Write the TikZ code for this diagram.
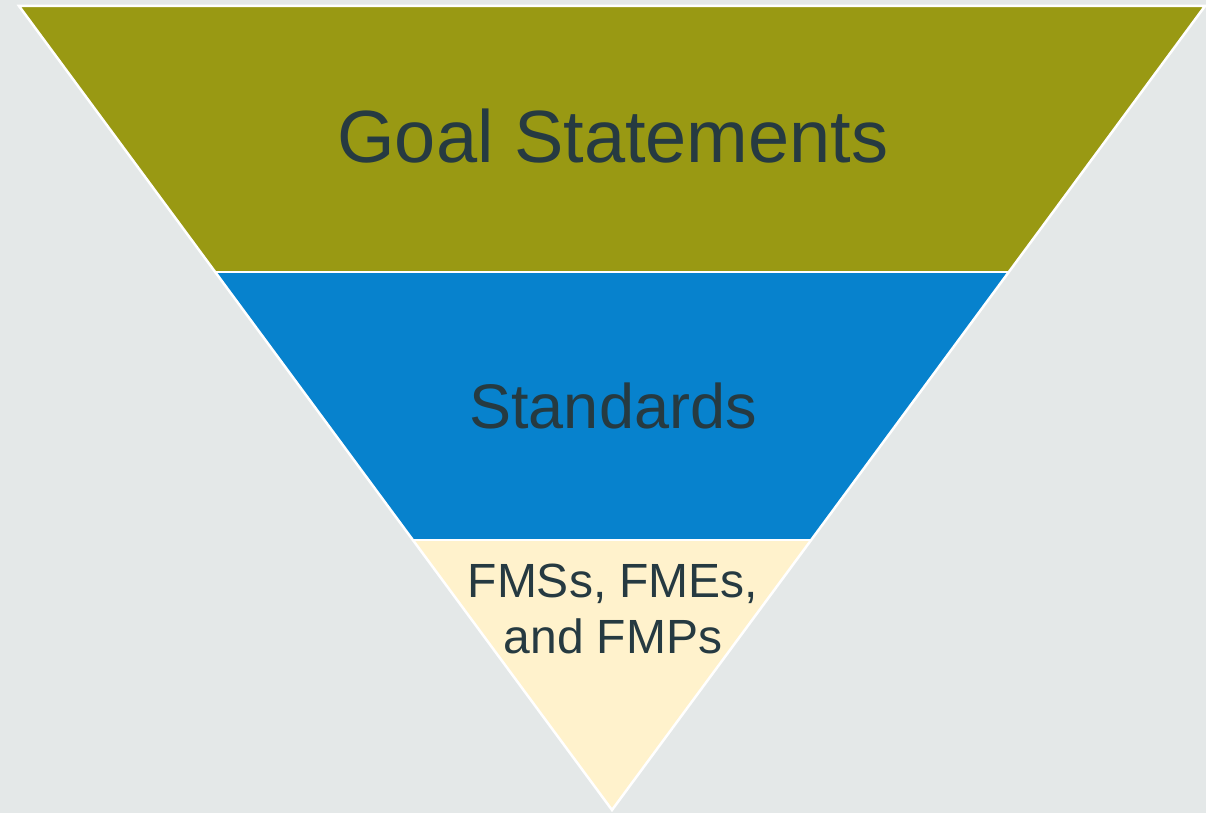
\documentclass[tikz,border=0pt]{standalone}
\usepackage{fontspec}
\setmainfont{Liberation Sans}
\definecolor{bgc}{HTML}{E4E8E8}
\definecolor{olive}{HTML}{999913}
\definecolor{blu}{HTML}{0782CD}
\definecolor{cream}{HTML}{FFF2CC}
\definecolor{txt}{HTML}{263A41}
\tikzset{band/.style={draw=white, line width=2.5pt, line join=miter},
  lbl/.style={text=txt, anchor=base, inner sep=0pt}}
\begin{document}
\begin{tikzpicture}[x=1pt,y=-1pt]
\fill[bgc] (0,0) rectangle (1206,813);
\useasboundingbox (0,0) rectangle (1206,813);
\coordinate (TL) at (19,6);
\coordinate (TR) at (1205,6);
\coordinate (A) at (612,810);
\coordinate (L1) at (215.2,272);
\coordinate (R1) at (1008.8,272);
\coordinate (L2) at (412.9,540);
\coordinate (R2) at (811.1,540);
\fill[olive] (TL) -- (TR) -- (R1) -- (L1) -- cycle;
\fill[blu] (L1) -- (R1) -- (R2) -- (L2) -- cycle;
\fill[cream] (L2) -- (R2) -- (A) -- cycle;
\draw[band] (L1) -- (R1) (L2) -- (R2);
\draw[band] (TL) -- (TR) -- (A) -- cycle;
\node[lbl, font=\fontsize{74}{80}\selectfont] (g) at (613,163) {Goal Statements};
\node[lbl, font=\fontsize{63}{70}\selectfont] (s) at (613,428) {Standards};
\node[lbl, font=\fontsize{48}{56}\selectfont] (f1) at (613,597) {FMSs, FMEs,};
\node[lbl, font=\fontsize{48}{56}\selectfont] (f2) at (613,653) {and FMPs};
\end{tikzpicture}
\end{document}
